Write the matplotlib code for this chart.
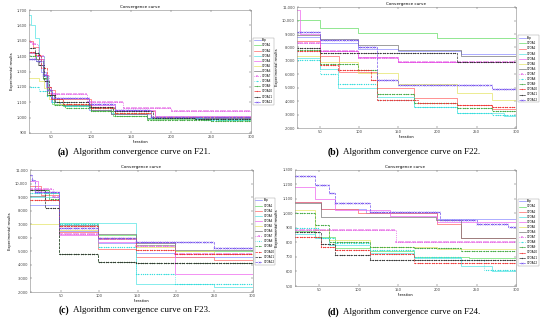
import numpy as np
import matplotlib
matplotlib.use("Agg")
import matplotlib.pyplot as plt

names = ["Pop"] + ["CTOA%d" % i for i in range(1, 13)]
iters = np.arange(1, 301)

# step curves: (start iteration, value) breakpoints per algorithm
f21_steps = [
    [(1, 1430), (30, 1400), (38, 1300), (44, 1200), (50, 1100), (62, 1080), (98, 1050), (125, 1020), (175, 1000)],
    [(1, 1420), (32, 1380), (40, 1250), (46, 1150), (52, 1090), (66, 1075), (100, 1045), (128, 1010), (170, 990), (260, 982)],
    [(1, 1500), (28, 1460), (36, 1380), (42, 1280), (47, 1180), (55, 1120), (100, 1070), (130, 1045), (180, 1005)],
    [(1, 1670), (26, 1600), (30, 1520), (36, 1400), (42, 1270), (47, 1170), (52, 1100), (70, 1080), (100, 1060), (125, 1030), (170, 1000), (230, 990)],
    [(1, 1420), (30, 1380), (40, 1260), (46, 1160), (56, 1130), (98, 1080), (130, 1050), (180, 1010)],
    [(1, 1260), (35, 1240), (42, 1190), (48, 1120), (60, 1090), (100, 1060), (130, 1030), (175, 1005)],
    [(1, 1380), (34, 1340), (40, 1280), (46, 1150), (54, 1100), (66, 1085), (100, 1050), (125, 1025), (170, 1000), (250, 995)],
    [(1, 1490), (28, 1480), (34, 1400), (42, 1280), (48, 1180), (52, 1155), (96, 1100), (140, 1060), (200, 1045)],
    [(1, 1200), (36, 1175), (46, 1140), (52, 1100), (66, 1075), (100, 1060), (130, 1040), (175, 1000), (240, 985)],
    [(1, 1400), (32, 1370), (40, 1260), (46, 1150), (54, 1080), (68, 1065), (100, 1040), (130, 1010), (170, 985), (250, 980)],
    [(1, 1430), (30, 1410), (38, 1320), (45, 1200), (50, 1120), (66, 1090), (100, 1060), (130, 1030), (175, 1005)],
    [(1, 1450), (30, 1420), (36, 1340), (42, 1240), (48, 1150), (56, 1100), (98, 1070), (128, 1040), (178, 1000), (230, 990)],
    [(1, 1380), (32, 1370), (40, 1280), (46, 1180), (52, 1130), (98, 1090), (130, 1050), (175, 1005)],
]

f22_steps = [
    [(1, 8800), (50, 8300), (99, 7900), (150, 7700), (230, 7500)],
    [(1, 10060), (50, 9440), (99, 9065), (200, 8690)],
    [(1, 8500), (50, 7400), (75, 6200), (123, 5000), (170, 4200), (225, 3700), (270, 3400)],
    [(1, 7200), (50, 6400), (73, 4970), (123, 4300), (170, 3600), (225, 3100), (285, 2860)],
    [(1, 10800), (25, 9000), (50, 7700), (99, 7300), (150, 6900)],
    [(1, 7400), (50, 6900), (99, 6100), (150, 5300), (225, 4600), (270, 4100)],
    [(1, 8900), (50, 8600), (99, 8200), (150, 7800), (230, 7400)],
    [(1, 8320), (50, 7700), (99, 7200), (150, 6880)],
    [(1, 7100), (50, 6000), (73, 5300), (123, 4100), (170, 3600), (225, 3100), (270, 2950)],
    [(1, 7800), (50, 6800), (99, 6300), (123, 4500), (170, 3900), (225, 3500), (270, 3300)],
    [(1, 7700), (50, 6700), (73, 6290), (115, 5590), (123, 4100), (175, 3900), (225, 3700), (270, 3555)],
    [(1, 7950), (50, 7575), (225, 6880)],
    [(1, 9115), (50, 8520), (99, 8070), (123, 5590), (150, 5220), (270, 4900)],
]

f23_steps = [
    [(1, 8400), (48, 6500), (98, 5600), (148, 4900), (199, 4600)],
    [(1, 9500), (30, 9300), (48, 7060), (98, 6200), (148, 5500), (199, 5000)],
    [(1, 9800), (25, 9200), (48, 6440), (98, 5210), (148, 4600), (250, 4400)],
    [(1, 9000), (48, 7100), (98, 7060), (148, 2580), (250, 2380)],
    [(1, 10200), (20, 9400), (48, 6200), (98, 5700), (199, 3360)],
    [(1, 7000), (48, 6600), (98, 5900), (148, 5300), (199, 5000), (250, 4840)],
    [(1, 9100), (30, 8800), (48, 6940), (98, 6300), (148, 5600), (199, 5100)],
    [(1, 9600), (40, 9000), (48, 6300), (98, 5900), (148, 5400), (199, 4840)],
    [(1, 9300), (48, 7000), (98, 5300), (148, 3300), (199, 2600)],
    [(1, 9520), (35, 8900), (48, 4800), (98, 4230), (148, 4150)],
    [(1, 8800), (48, 6900), (98, 6000), (148, 5090), (199, 4840)],
    [(1, 9520), (30, 8200), (48, 4800), (98, 4230), (148, 4150)],
    [(1, 10630), (12, 10260), (16, 9400), (48, 6700), (98, 6000), (148, 5700), (199, 5700), (250, 5260)],
]

f24_steps = [
    [(1, 1081), (52, 1030), (110, 1000), (200, 960)],
    [(1, 880), (45, 840), (70, 760), (115, 740), (170, 700), (240, 690)],
    [(1, 1081), (52, 1030), (99, 1000), (200, 930), (230, 829)],
    [(1, 860), (45, 830), (62, 780), (115, 730), (170, 690), (230, 640), (270, 600)],
    [(1, 1180), (45, 1100), (70, 1024), (140, 980), (200, 940)],
    [(1, 1024), (45, 886), (62, 820), (115, 770), (200, 753)],
    [(1, 1070), (52, 978), (198, 955), (230, 829)],
    [(1, 886), (147, 806)],
    [(1, 900), (50, 830), (70, 794), (115, 748), (170, 700), (230, 680), (260, 610)],
    [(1, 1000), (45, 920), (62, 800), (115, 770), (170, 760), (230, 744)],
    [(1, 840), (52, 770), (70, 750), (115, 720), (170, 656)],
    [(1, 870), (52, 790), (70, 714), (115, 680)],
    [(1, 1259), (45, 1197), (62, 1140), (70, 1070), (115, 1013), (203, 955), (250, 930), (290, 909)],
]

panels = [
    ("F21", f21_steps, (23, 300), (900, 1700), 100),
    ("F22", f22_steps, (21, 300), (2000, 11000), 1000),
    ("F23", f23_steps, (10, 290), (2000, 11000), 1000),
    ("F24", f24_steps, (19, 300), (500, 1300), 100),
]

styles = [
    dict(color="#8c8cff", ls="-"),
    dict(color="#66dd66", ls="-"),
    dict(color="#ff6666", ls="-"),
    dict(color="#55e5e5", ls="-"),
    dict(color="#ee66ee", ls="-"),
    dict(color="#e5e566", ls="-"),
    dict(color="#777777", ls="-"),
    dict(color="#dd33dd", ls=":", marker="+"),
    dict(color="#33dddd", ls=":", marker="."),
    dict(color="#44aa44", ls="--", marker="."),
    dict(color="#ee3333", ls="--", marker="."),
    dict(color="#333333", ls="--", marker="."),
    dict(color="#7755ee", ls="--", marker="x"),
]

positions = [
    [0.0527, 0.591, 0.4036, 0.378],
    [0.540, 0.606, 0.398, 0.372],
    [0.0545, 0.1015, 0.405, 0.375],
    [0.536, 0.120, 0.402, 0.357],
]
legend_y = [0.504, 0.489, 0.50, 0.465]
letters = ["a", "b", "c", "d"]
caption_xy = [(0.254, 0.532), (0.745, 0.532), (0.254, 0.045), (0.745, 0.040)]

plt.rcParams["font.family"] = "DejaVu Sans"
fig = plt.figure(figsize=(5.5, 3.25), dpi=100)

for k, (fname, steps, xl, yl, ystep) in enumerate(panels):
    ax = fig.add_axes(positions[k])
    for s, st in zip(steps, styles):
        bx = np.array([p[0] for p in s])
        by = np.array([p[1] for p in s])
        y = by[np.searchsorted(bx, iters, side="right") - 1]
        ax.plot(iters, y, drawstyle="steps-post", lw=0.5, markersize=1.2,
                markeredgewidth=0.3, markevery=3, **st)
    ax.set_xlim(*xl)
    ax.set_ylim(*yl)
    ax.set_xticks(range(50, 301, 50))
    ax.set_yticks(range(yl[0], yl[1] + 1, ystep))
    ax.yaxis.set_major_formatter(matplotlib.ticker.FuncFormatter(lambda v, p: f"{int(v):,}"))
    ax.tick_params(direction="in", length=1.5, width=0.3, labelsize=2.6,
                   top=True, right=True, pad=1.5, colors="#444444")
    for sp in ax.spines.values():
        sp.set_linewidth(0.4)
        sp.set_color("#888888")
    ax.set_title("Convergence curve", fontsize=3, pad=1.5)
    ax.set_xlabel("Iteration", fontsize=2.6, labelpad=0.5)
    ax.set_ylabel("Experimental results", fontsize=2.6, labelpad=2)
    leg = ax.legend(names, loc="center left", bbox_to_anchor=(1.006, legend_y[k]),
                    fontsize=2.0, handlelength=2.5, borderpad=0.3, labelspacing=0.4,
                    handletextpad=0.4, borderaxespad=0.2, frameon=True, fancybox=False,
                    edgecolor="#999999", framealpha=1)
    leg.get_frame().set_linewidth(0.3)
    cx, cy = caption_xy[k]
    fig.text(cx - 0.128, cy, "(%s)" % letters[k], fontsize=7, fontweight="bold",
             family="Liberation Serif", ha="right", va="center")
    fig.text(cx - 0.122, cy, "Algorithm convergence curve on %s." % fname, fontsize=6.5,
             family="Liberation Serif", ha="left", va="center")

fig.savefig("out.png", dpi=100)
